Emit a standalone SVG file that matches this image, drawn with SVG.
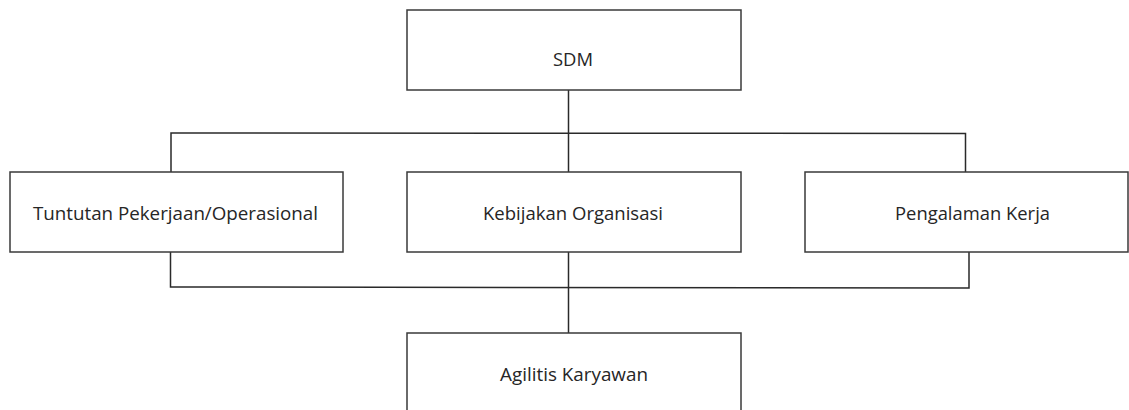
<svg xmlns="http://www.w3.org/2000/svg" width="1129" height="410" viewBox="0 0 1129 410">
<style>
.box{fill:#fff;stroke:#3a3a3a;stroke-width:1.5}
.lbl{font-family:"Open Sans","Noto Sans","Liberation Sans",sans-serif;font-size:18px;fill:#262626;text-anchor:middle}
.con{fill:none;stroke:#2a2a2a;stroke-width:1.5}
</style>
<rect width="1129" height="410" fill="#fff"/>
<g id="connectors">
<line class="con" x1="568.5" y1="90" x2="568.5" y2="172"/>
<polyline class="con" points="171,172 171,133 965.5,133.5 965.5,172"/>
<line class="con" x1="568.5" y1="252" x2="568.5" y2="333"/>
<polyline class="con" points="170.5,252 170.5,287 969,288 969,252"/>
</g>
<g id="sdm">
<rect class="box" x="407" y="10" width="334" height="80"/>
<text class="lbl" x="573" y="66" textLength="40" lengthAdjust="spacingAndGlyphs">SDM</text>
</g>
<g id="tuntutan">
<rect class="box" x="10" y="172" width="333" height="80"/>
<text class="lbl" x="175.5" y="220" textLength="285" lengthAdjust="spacingAndGlyphs">Tuntutan Pekerjaan/Operasional</text>
</g>
<g id="kebijakan">
<rect class="box" x="407" y="172" width="334" height="80"/>
<text class="lbl" x="573" y="220" textLength="180" lengthAdjust="spacingAndGlyphs">Kebijakan Organisasi</text>
</g>
<g id="pengalaman">
<rect class="box" x="805" y="172" width="323" height="80"/>
<text class="lbl" x="972.5" y="220" textLength="155" lengthAdjust="spacingAndGlyphs">Pengalaman Kerja</text>
</g>
<g id="agilitis">
<rect class="box" x="407" y="333" width="334" height="90"/>
<text class="lbl" x="574" y="381" textLength="148" lengthAdjust="spacingAndGlyphs">Agilitis Karyawan</text>
</g>
</svg>
